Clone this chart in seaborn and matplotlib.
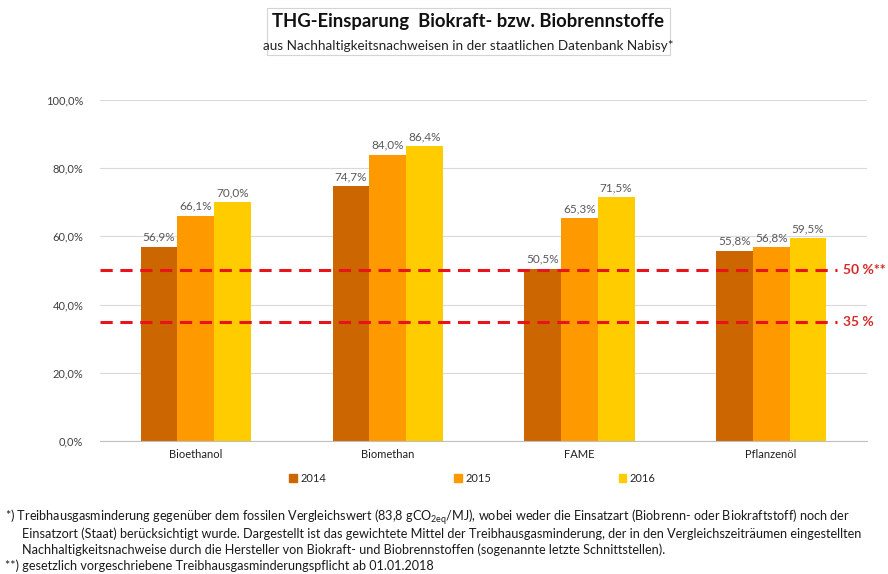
import pandas as pd
import seaborn as sns
import matplotlib.pyplot as plt
from matplotlib.patches import Rectangle

# Werte aus dem Diagramm (THG-Einsparung in %)
categories = ["Bioethanol", "Biomethan", "FAME", "Pflanzenöl"]
years = ["2014", "2015", "2016"]
vals_2014 = [56.9, 74.7, 50.5, 55.8]
vals_2015 = [66.1, 84.0, 65.3, 56.8]
vals_2016 = [70.0, 86.4, 71.5, 59.5]
limit_values = [50, 35]
limit_labels = ["50 %**", "35 %"]

colors = ["#cc6600", "#ff9900", "#ffcc00"]

df = pd.DataFrame({
    "Kraftstoff": categories * 3,
    "Jahr": [y for y in years for _ in categories],
    "Wert": vals_2014 + vals_2015 + vals_2016,
})

sns.set_style("white")
plt.rcParams["font.family"] = ["Lato", "DejaVu Sans"]
plt.rcParams["mathtext.default"] = "regular"

fig = plt.figure(figsize=(8.88, 5.74), dpi=100)
ax = fig.add_axes([0.1126, 0.2317, 0.8638, 0.5941])

sns.barplot(data=df, x="Kraftstoff", y="Wert", hue="Jahr", palette=colors,
            width=0.575, saturation=1, ax=ax, zorder=2, legend=False,
            linewidth=0, edgecolor="none")

ax.set_ylim(0, 100)
ax.set_xlim(-0.5, 3.5)
ax.set_yticks(range(0, 101, 20))
ax.set_yticklabels([f"{v:.1f}%".replace(".", ",") for v in range(0, 101, 20)],
                   fontsize=8, color="#404040")
ax.set_xlabel("")
ax.set_ylabel("")
ax.tick_params(axis="x", length=0, labelsize=8, pad=6, labelcolor="#202020")
ax.tick_params(axis="y", length=0, pad=12)
ax.set_xticks([-0.5, 0.5, 1.5, 2.5, 3.5], minor=True)
ax.tick_params(axis="x", which="minor", length=5, color="#bfbfbf", direction="out")
ax.grid(axis="y", color="#d9d9d9", linewidth=0.8, zorder=0)
ax.set_axisbelow(True)
for s in ["left", "right", "top"]:
    ax.spines[s].set_visible(False)
ax.spines["bottom"].set_color("#bfbfbf")
ax.spines["bottom"].set_linewidth(0.8)

# Wertebeschriftung
for cont in ax.containers:
    ax.bar_label(cont, labels=[f"{b.get_height():.1f}%".replace(".", ",") for b in cont],
                 padding=3, fontsize=8.5, color="#595959")

# Grenzwerte
for v, lab in zip(limit_values, limit_labels):
    ax.axhline(v, xmin=0, xmax=0.961, color="#e8141b", linestyle=(0, (4, 2.5)),
               linewidth=2.2, zorder=5)
    ax.text(0.969, v, lab, transform=ax.get_yaxis_transform(), color="#d62a2a",
            fontsize=10, fontweight="bold", va="center", ha="left")

# Legende
handles = [Rectangle((0, 0), 1, 1, color=c) for c in colors]
fig.legend(handles, years, loc="center", bbox_to_anchor=(0.532, 0.167), ncol=3,
           frameon=False, fontsize=8, handlelength=0.7, handleheight=0.7,
           handletextpad=0.3, columnspacing=11.5)

# Titelbox
fig.add_artist(Rectangle((0.3007, 0.904), 0.4538, 0.082, transform=fig.transFigure,
                         facecolor="none", edgecolor="#d4d4d4", linewidth=0.8))
fig.text(0.527, 0.962, "THG-Einsparung  Biokraft- bzw. Biobrennstoffe", ha="center",
         va="center", fontsize=13.3, fontweight="bold", color="#111111")
fig.text(0.527, 0.92, "aus Nachhaltigkeitsnachweisen in der staatlichen Datenbank Nabisy*",
         ha="center", va="center", fontsize=9.7, color="#222222")

# Fussnoten
notes = [
    (0.006, 0.099, "*) Treibhausgasminderung gegenüber dem fossilen Vergleichswert (83,8 gCO$_{2eq}$/MJ), "
                   "wobei weder die Einsatzart (Biobrenn- oder Biokraftstoff) noch der"),
    (0.025, 0.070, "Einsatzort (Staat) berücksichtigt wurde. Dargestellt ist das gewichtete Mittel der "
                   "Treibhausgasminderung, der in den Vergleichszeiträumen eingestellten"),
    (0.025, 0.042, "Nachhaltigkeitsnachweise durch die Hersteller von Biokraft- und Biobrennstoffen "
                   "(sogenannte letzte Schnittstellen)."),
    (0.006, 0.014, "**) gesetzlich vorgeschriebene Treibhausgasminderungspflicht ab 01.01.2018"),
]
for x, y, t in notes:
    fig.text(x, y, t, fontsize=9.1, color="#1a1a1a", ha="left", va="center")

fig.savefig("out.png", dpi=100)
